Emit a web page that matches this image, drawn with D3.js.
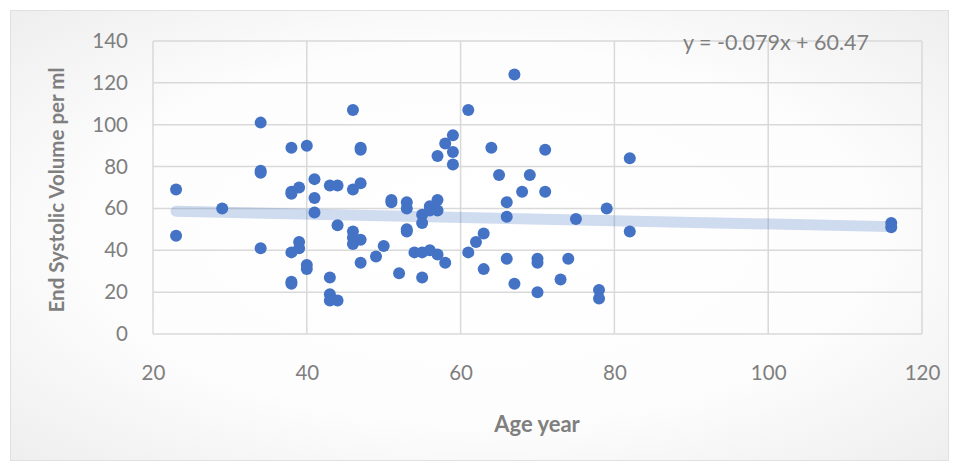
<!DOCTYPE html>
<html><head><meta charset="utf-8">
<script src="https://cdn.jsdelivr.net/npm/d3@7"></script>
<style>body{margin:0;background:#fff;}svg{display:block;}</style>
</head><body>
<svg id="c" width="958" height="465"></svg>
<script>
const ages = [46,34,38,40,47,47,34,34,23,38,38,39,41,41,43,44,46,47,29,41,23,34,38,39,39,40,40,38,38,43,43,43,44,44,46,46,46,47,47,49,
67,61,59,58,59,57,59,64,71,65,69,68,71,66,66,75,79,51,51,53,53,55,55,56,56,57,57,53,53,50,54,55,56,57,58,52,55,63,62,61,63,66,70,70,74,67,70,73,78,78,82,82,116,116];
const esv  = [107,101,89,90,89,88,78,77,69,68,67,70,74,65,71,71,69,72,60,58,47,41,39,44,41,33,31,25,24,27,19,16,16,52,49,46,43,45,34,37,
124,107,95,91,87,85,81,89,88,76,76,68,68,63,56,55,60,64,63,63,60,57,53,61,59,64,59,50,49,42,39,39,40,38,34,29,27,48,44,39,31,36,36,34,36,24,20,26,21,17,84,49,53,51];
const xTicks = [20,40,60,80,100,120];
const yTicks = [0,20,40,60,80,100,120,140];
const slope = -0.079, intercept = 60.47;
const eqLabel = "y = -0.079x + 60.47";
const xTitle = "Age year";
const yTitle = "End Systolic Volume per ml";

const svg = d3.select("#c");
const defs = svg.append("defs");
const rg = defs.append("radialGradient").attr("id","bg").attr("cx","50%").attr("cy","50%").attr("r","75%");
rg.append("stop").attr("offset","0%").attr("stop-color","#ffffff");
rg.append("stop").attr("offset","55%").attr("stop-color","#fdfdfd");
rg.append("stop").attr("offset","100%").attr("stop-color","#ececec");
svg.append("rect").attr("x",10.5).attr("y",10.5).attr("width",938).attr("height",450)
  .attr("fill","url(#bg)").attr("stroke","#e0e0e0").attr("stroke-width",1);

const x = d3.scaleLinear().domain([20,120]).range([153,922]);
const y = d3.scaleLinear().domain([0,140]).range([334,41]);
const font = "Lato, 'Open Sans', sans-serif";
const gray = "#7f7f7f";

// gridlines
svg.append("g").selectAll("line").data(yTicks).join("line")
  .attr("x1",x(20)).attr("x2",x(120)).attr("y1",d=>y(d)).attr("y2",d=>y(d))
  .attr("stroke","#d9d9d9").attr("stroke-width",1.5);
svg.append("g").selectAll("line").data(xTicks).join("line")
  .attr("y1",y(0)).attr("y2",y(140)).attr("x1",d=>x(d)).attr("x2",d=>x(d))
  .attr("stroke","#d9d9d9").attr("stroke-width",1.5);

// axes (labels only)
const yAxis = d3.axisLeft(y).tickValues(yTicks).tickSize(0).tickPadding(25);
const gy = svg.append("g").attr("transform",`translate(${x(20)},0)`).call(yAxis);
const xAxis = d3.axisBottom(x).tickValues(xTicks).tickSize(0).tickPadding(31);
const gx = svg.append("g").attr("transform",`translate(0,${y(0)})`).call(xAxis);
[gx,gy].forEach(g=>{
  g.select(".domain").remove();
  g.selectAll("text").attr("fill",gray).style("font-family",font).style("font-size","20.5px");
});

// trendline
const tx = d3.extent(ages);
svg.append("line")
  .attr("x1",x(tx[0])).attr("y1",y(slope*tx[0]+intercept))
  .attr("x2",x(tx[1])).attr("y2",y(slope*tx[1]+intercept))
  .attr("stroke","#4472c4").attr("stroke-opacity",0.25).attr("stroke-width",11).attr("stroke-linecap","round");

// points
svg.append("g").selectAll("circle").data(ages.map((a,i)=>[a,esv[i]])).join("circle")
  .attr("cx",d=>x(d[0])).attr("cy",d=>y(d[1])).attr("r",6).attr("fill","#4472c4");

// equation
svg.append("text").attr("x",776).attr("y",50).attr("text-anchor","middle")
  .attr("fill",gray).style("font-family",font).style("font-size","21.5px").text(eqLabel);

// titles
svg.append("text").attr("x",537).attr("y",432).attr("text-anchor","middle")
  .attr("fill",gray).style("font-family",font).style("font-size","22px").style("font-weight","bold").text(xTitle);
svg.append("text").attr("transform","translate(64,190) rotate(-90)").attr("text-anchor","middle")
  .attr("fill",gray).style("font-family",font).style("font-size","20.5px").style("font-weight","bold").text(yTitle);
</script>
</body></html>
